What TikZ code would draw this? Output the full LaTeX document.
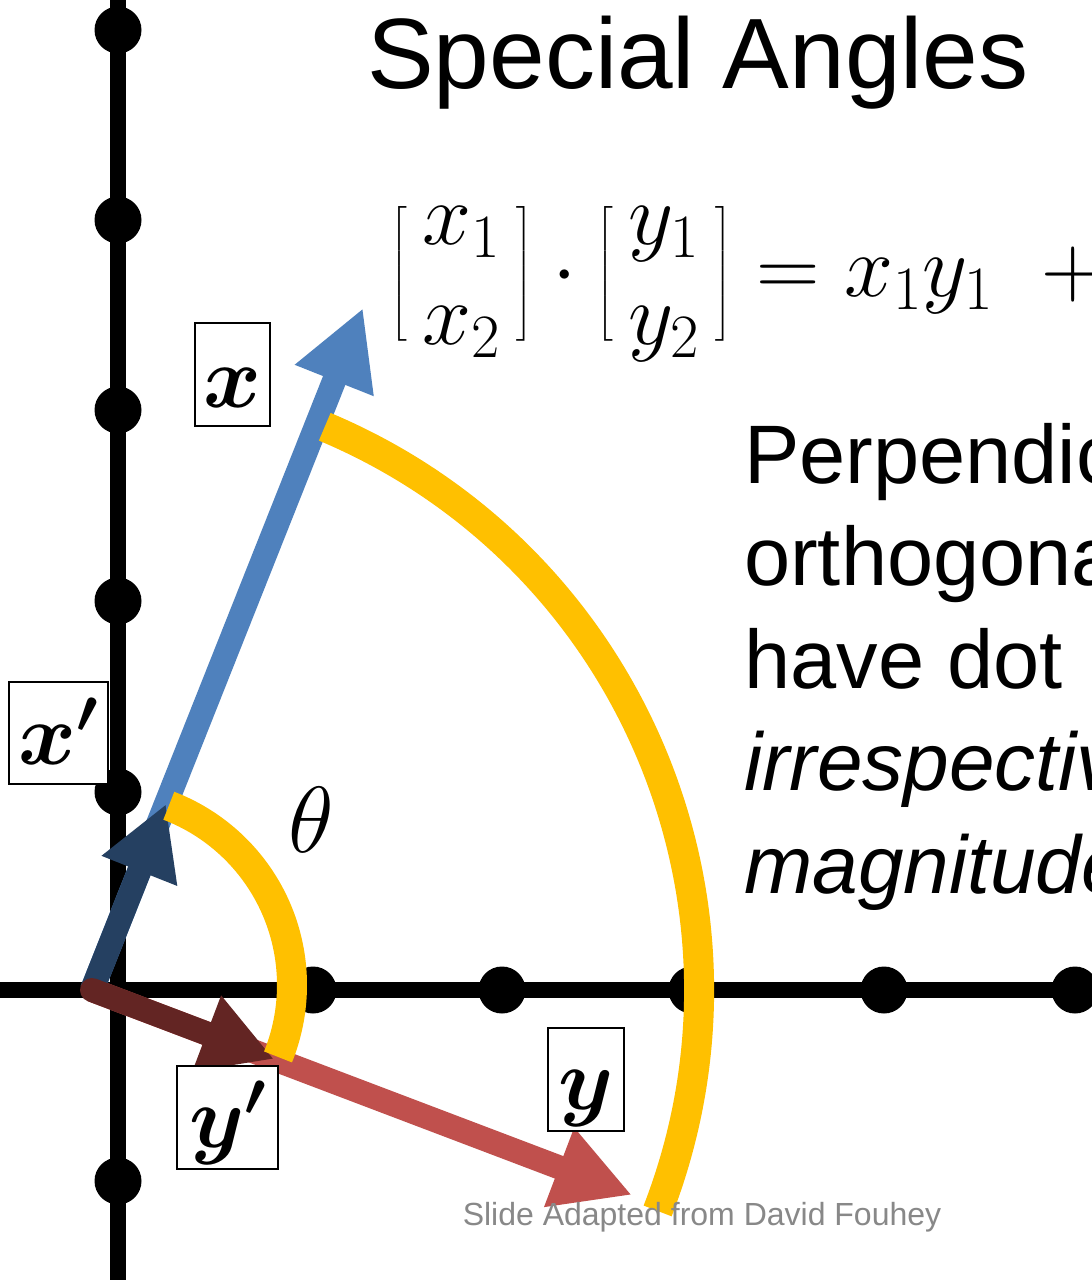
\RequirePackage{fix-cm}
\documentclass[tikz,border=0pt]{standalone}
\usepackage{amsmath}
\usepackage[no-math]{fontspec}
\setmainfont{Liberation Sans}
\usetikzlibrary{arrows.meta}
\definecolor{vblue}{HTML}{4F81BD}
\definecolor{vnavy}{HTML}{254061}
\definecolor{vred}{HTML}{C0504D}
\definecolor{vmaroon}{HTML}{632523}
\definecolor{ayellow}{HTML}{FFC000}
\definecolor{footgray}{HTML}{888888}
\newcommand{\lbrk}{\left[\vcenter{\hbox{\rule{0pt}{136pt}}}\right.}
\newcommand{\rbrk}{\left.\vcenter{\hbox{\rule{0pt}{136pt}}}\right]}
\begin{document}
\begin{tikzpicture}[x=1pt,y=-1pt,
  axisline/.style={line width=16pt, black},
  gdot/.style={circle, fill=black, inner sep=0pt, minimum size=47pt},
  bigvec/.style={line width=24pt, -{Triangle[length=78pt,width=79pt]}},
  smallvec/.style={line width=24pt, -{Triangle[length=72pt,width=76pt]}},
  arcline/.style={line width=30pt, ayellow},
  lbox/.style={draw, line width=2pt, fill=white, inner sep=0pt},
  glyph/.style={inner sep=0pt, font=\fontsize{88}{100}\selectfont},
  bodytext/.style={anchor=base west, inner sep=0pt, font=\fontsize{83}{100}\selectfont},
  bodyital/.style={anchor=base west, inner sep=0pt, font=\fontsize{82}{100}\selectfont\itshape}]
\useasboundingbox (0,0) rectangle (1092,1280);
\fill[white] (0,0) rectangle (1092,1280);
\clip (0,0) rectangle (1092,1280);

% axes
\coordinate (vt) at (118,-20);
\coordinate (vb) at (118,1300);
\coordinate (hl) at (-20,990);
\coordinate (hr) at (1112,990);
\draw[axisline] (vt) -- (vb);
\draw[axisline] (hl) -- (hr);
\foreach \yy [count=\i] in {30,220,410,601,792,1181}
  \node[gdot] (vd\i) at (118,\yy) {};
\foreach \xx [count=\i] in {313,502,692,884,1075}
  \node[gdot] (hd\i) at (\xx,990) {};

% vectors
\coordinate (O) at (92,990);
\coordinate (xt) at (363,308);
\coordinate (xpt) at (166,804);
\coordinate (yt) at (632,1195);
\coordinate (ypt) at (274,1059);
\draw[bigvec, vblue] (O) -- (xt);
\draw[bigvec, vred] (O) -- (yt);
\draw[smallvec, vnavy] (O) -- (xpt);
\draw[smallvec, vmaroon, line cap=round] (O) -- (ypt);

% angle arcs
\coordinate (cbig) at (88,990);
\coordinate (csmall) at (100,985);
\draw[arcline] (cbig) ++(-67.2:611) arc[start angle=-67.2, end angle=21.2, radius=611];
\draw[arcline] (csmall) ++(-69:192) arc[start angle=-69, end angle=22, radius=192];

% vector labels
\node[lbox, minimum width=75pt, minimum height=103pt] (bx) at (232.5,374.5) {};
\node[glyph, anchor=base] (gx) at (232,407) {$\boldsymbol{x}$};
\node[lbox, minimum width=99pt, minimum height=102pt] (bxp) at (58.5,733) {};
\node[glyph, anchor=base] (gxp) at (58,764) {$\boldsymbol{x'}$};
\node[lbox, minimum width=76pt, minimum height=103pt] (by) at (586,1079.5) {};
\node[glyph, anchor=base] (gy) at (586,1109) {$\boldsymbol{y}$};
\node[lbox, minimum width=101pt, minimum height=103pt] (byp) at (227.5,1117.5) {};
\node[glyph, anchor=base] (gyp) at (227.5,1147) {$\boldsymbol{y'}$};

\node[anchor=base, inner sep=0pt, font=\fontsize{94}{110}\selectfont] (th) at (311,852) {$\theta$};

% title and equation
\node[anchor=base west, inner sep=0pt, font=\fontsize{100}{120}\selectfont] (title) at (367,88) {Special Angles};
\node[anchor=west, inner sep=0pt, font=\fontsize{88}{100}\selectfont] (eq) at (390,274)
  {$\lbrk\begin{matrix}x_1\\x_2\end{matrix}\rbrk\cdot\lbrk\begin{matrix}y_1\\y_2\end{matrix}\rbrk=x_1y_1\;\;+$};

% body text
\node[bodytext] (t1) at (744,483) {Perpendicular};
\node[bodytext] (t2) at (744,585) {orthogonal};
\node[bodytext] (t3) at (744,688) {have dot};
\node[bodyital] (t4) at (744,790) {irrespective};
\node[bodyital] (t5) at (744,893) {magnitude};

% footer
\node[anchor=base, inner sep=0pt, font=\fontsize{32}{38}\selectfont, text=footgray] (foot) at (702,1225) {Slide Adapted from David Fouhey};
\end{tikzpicture}
\end{document}
